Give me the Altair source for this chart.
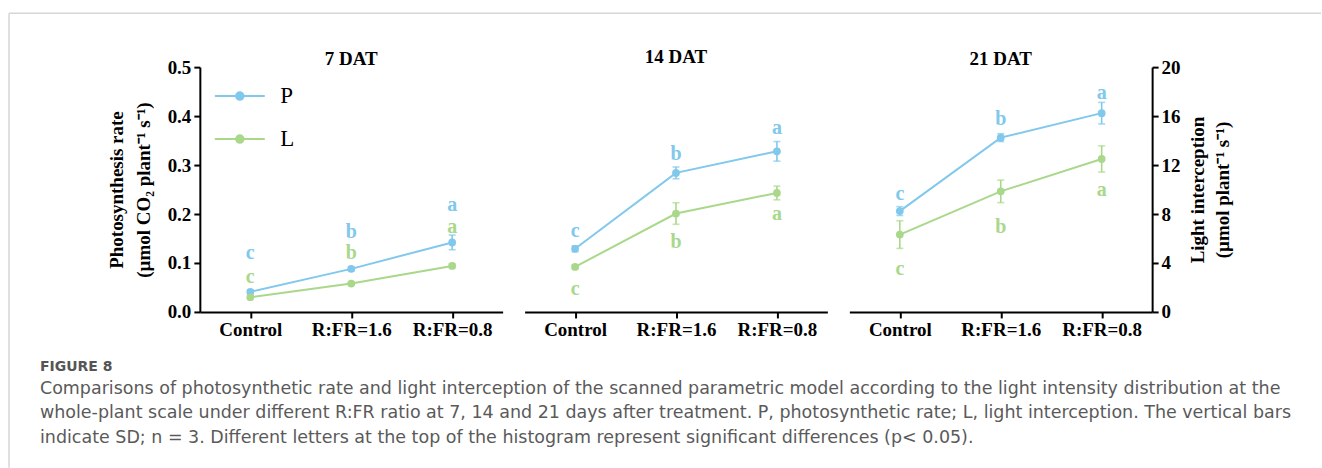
import altair as alt
import pandas as pd

# ---------------- data ----------------
categories = ["Control", "R:FR=1.6", "R:FR=0.8"]
panels = ["7 DAT", "14 DAT", "21 DAT"]

# Photosynthesis rate (µmol CO2 plant-1 s-1), left axis
P_mean = [[0.041, 0.088, 0.142], [0.129, 0.284, 0.328], [0.206, 0.356, 0.406]]
P_sd = [[0.004, 0.004, 0.015], [0.006, 0.012, 0.020], [0.009, 0.008, 0.022]]
P_letters = [["c", "b", "a"], ["c", "b", "a"], ["c", "b", "a"]]

# Light interception (µmol plant-1 s-1), right axis
L_mean = [[1.20, 2.32, 3.76], [3.68, 8.04, 9.72], [6.32, 9.85, 12.5]]
L_sd = [[0.12, 0.12, 0.16], [0.16, 0.88, 0.56], [1.13, 0.92, 1.07]]
L_letters = [["c", "b", "a"], ["c", "b", "a"], ["c", "b", "a"]]

# letter placement: pixel offset above (+) / below (-) the mean point
P_letter_dy = [[39, 37, 37], [18, 19, 23], [17, 19, 20]]
L_letter_dy = [[20, 31, 39], [-22, -28, -21], [-34, -36, -31]]

P_domain = [0, 0.5]
L_domain = [0, 20]

caption_title = "FIGURE 8"
caption_lines = [
    "Comparisons of photosynthetic rate and light interception of the scanned parametric model according to the light intensity distribution at the",
    "whole-plant scale under different R:FR ratio at 7, 14 and 21 days after treatment. P, photosynthetic rate; L, light interception. The vertical bars",
    "indicate SD; n = 3. Different letters at the top of the histogram represent significant differences (p< 0.05).",
]

# ---------------- styling ----------------
BLUE = "#80C8EC"
GREEN = "#A9D88B"
SERIF = "Liberation Serif"
CAPFONT = "DejaVu Sans"
W, H = 303, 245
GAP = 22

color_scale = alt.Scale(domain=["P", "L"], range=[BLUE, GREEN])

x_enc = alt.X(
    "cat:N",
    sort=categories,
    scale=alt.Scale(type="point", padding=0.5),
    axis=alt.Axis(
        title=None, labelAngle=0, labelFont=SERIF, labelFontSize=19,
        labelFontWeight="bold", labelColor="black", labelPadding=3,
        domainColor="black", domainWidth=2, tickColor="black", tickWidth=2,
        tickSize=6, grid=False,
    ),
)


def frame(vals, sds, letters, dys, series, dmax):
    k = dmax / H
    return pd.DataFrame({
        "cat": categories,
        "v": vals,
        "lo": [v - s for v, s in zip(vals, sds)],
        "hi": [v + s for v, s in zip(vals, sds)],
        "let": letters,
        "ly": [v + d * k for v, d in zip(vals, dys)],
        "s": [series] * 3,
    })


def series_layer(df, domain, axis, legend):
    ysc = alt.Scale(domain=domain, nice=False, zero=True)
    col = alt.Color("s:N", scale=color_scale, legend=legend)
    col_nl = alt.Color("s:N", scale=color_scale, legend=None)
    base = alt.Chart(df)
    line = base.mark_line(strokeWidth=2).encode(
        x=x_enc, y=alt.Y("v:Q", scale=ysc, axis=axis, title=None), color=col)
    pts = base.mark_circle(size=60, opacity=1).encode(
        x=x_enc, y=alt.Y("v:Q", scale=ysc, axis=axis, title=None), color=col_nl)
    err = base.mark_rule(strokeWidth=1.6).encode(
        x=x_enc, y=alt.Y("lo:Q", scale=ysc, axis=axis, title=None), y2="hi:Q", color=col_nl)
    cap_lo = base.mark_tick(size=7, thickness=1.6).encode(
        x=x_enc, y=alt.Y("lo:Q", scale=ysc, axis=axis, title=None), color=col_nl)
    cap_hi = base.mark_tick(size=7, thickness=1.6).encode(
        x=x_enc, y=alt.Y("hi:Q", scale=ysc, axis=axis, title=None), color=col_nl)
    txt = base.mark_text(font=SERIF, fontSize=20, fontWeight="bold", baseline="middle").encode(
        x=x_enc, y=alt.Y("ly:Q", scale=ysc, axis=axis, title=None), text="let:N", color=col_nl)
    return alt.layer(line, pts, err, cap_lo, cap_hi, txt)


axis_common = dict(
    labelFont=SERIF, labelFontSize=19, labelFontWeight="bold", labelColor="black",
    domainColor="black", domainWidth=2, tickColor="black", tickWidth=2, tickSize=6,
    grid=False, titleFont=SERIF, titleFontSize=19, titleFontWeight="bold",
    titleColor="black", labelPadding=3, titleAngle=-90,
)

left_axis = alt.Axis(
    orient="left", values=[0, 0.1, 0.2, 0.3, 0.4, 0.5], format=".1f",
    title=["Photosynthesis rate", "(µmol CO₂ plant⁻¹ s⁻¹)"], titlePadding=14,
    titleLineHeight=27, **axis_common)
right_axis = alt.Axis(
    orient="right", values=[0, 4, 8, 12, 16, 20], format="d",
    title=["Light interception", "(µmol plant⁻¹ s⁻¹)"], titlePadding=2,
    titleLineHeight=25, **axis_common)

legend = alt.Legend(
    title=None, orient="none", legendX=26.5, legendY=15.5, padding=0,
    symbolType="M-2,0L2,0M-0.3,0A0.3,0.3,0,1,0,0.3,0A0.3,0.3,0,1,0,-0.3,0Z",
    symbolSize=625, symbolStrokeWidth=2, labelFont=SERIF, labelFontSize=23,
    labelColor="black", labelOffset=27, rowPadding=17,
)

title_offsets = [-11, 0, -11]

charts = []
for i, name in enumerate(panels):
    dfP = frame(P_mean[i], P_sd[i], P_letters[i], P_letter_dy[i], "P", P_domain[1])
    dfL = frame(L_mean[i], L_sd[i], L_letters[i], L_letter_dy[i], "L", L_domain[1])
    axP = left_axis if i == 0 else None
    axL = right_axis if i == 2 else None
    lp = series_layer(dfP, P_domain, axP, legend if i == 0 else None)
    ll = series_layer(dfL, L_domain, axL, legend if i == 0 else None)
    ch = alt.layer(lp, ll).resolve_scale(y="independent").properties(
        width=W, height=H,
        title=alt.TitleParams(name, font=SERIF, fontSize=19, fontWeight="bold",
                              color="black", anchor="middle", frame="group",
                              offset=title_offsets[i]),
    )
    charts.append(ch)

# light grey page frame (top and left edges) around the figure, drawn from an
# empty helper view placed to the right of the third panel
x0 = -(3 * W + 3 * GAP) - 191      # page left edge relative to helper view
frame_df = pd.DataFrame({"k": [0]})
border_top = alt.Chart(frame_df).mark_rule(color="#d6d6d6", strokeWidth=1.5).encode(
    x=alt.value(x0), x2=alt.value(x0 + 1313), y=alt.value(-54))
border_left = alt.Chart(frame_df).mark_rule(color="#d6d6d6", strokeWidth=1.5).encode(
    x=alt.value(x0), y=alt.value(-54), y2=alt.value(401))
helper = alt.layer(border_top, border_left).properties(width=1, height=H)

chart = alt.hconcat(*charts, helper, spacing=GAP, bounds="flush").properties(
    title=alt.TitleParams(
        caption_title, subtitle=caption_lines, orient="bottom", anchor="start",
        frame="group", dx=-160, font=CAPFONT, fontSize=14, fontWeight=600,
        color="#555555", subtitleFont=CAPFONT, subtitleFontSize=17.5,
        subtitleColor="#5a5a5a", subtitleLineHeight=24.5, subtitlePadding=6, offset=-109,
    ),
    padding={"left": 8, "top": 12, "right": 0, "bottom": 0},
    background="white",
).configure_view(stroke="transparent", strokeWidth=0)

chart.save("out.html", embed_options={"renderer": "svg", "actions": False})
